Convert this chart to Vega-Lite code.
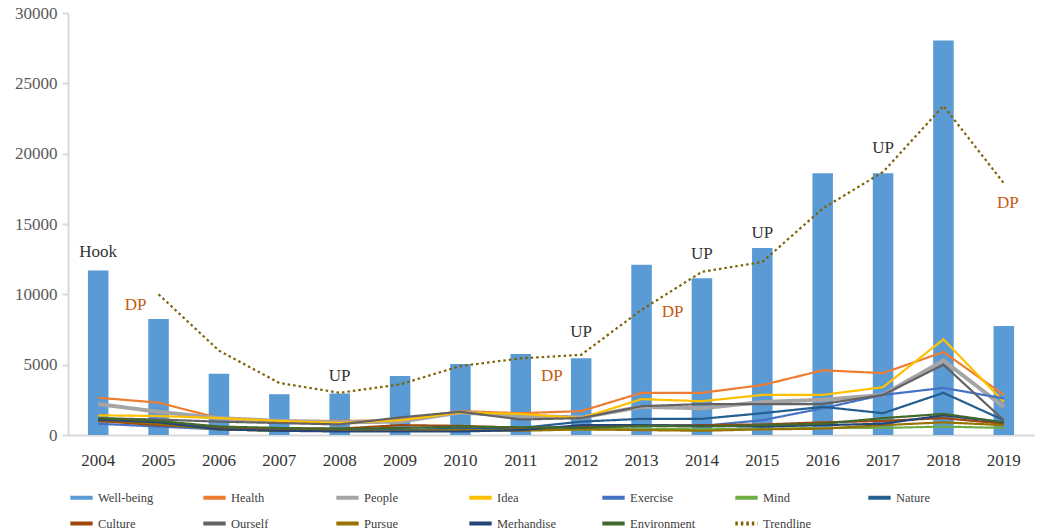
{
  "$schema": "https://vega.github.io/schema/vega-lite/v6.json",
  "autosize": {"type": "none"},
  "width": 966,
  "height": 422,
  "padding": {"left": 68, "top": 13, "right": 12, "bottom": 96},
  "background": "white",
  "config": {
    "view": {"stroke": null},
    "font": "Times New Roman, Liberation Serif, serif"
  },
  "datasets": {
    "wide": [
      {"year": "2004", "Well-being": 11700, "Health": 2650, "People": 2200, "Idea": 1400, "Exercise": 800, "Mind": 1000, "Nature": 1050, "Culture": 1000, "Ourself": 1200, "Pursue": 1100, "Merhandise": 1100, "Environment": 1200, "Trendline": null},
      {"year": "2005", "Well-being": 8250, "Health": 2300, "People": 1650, "Idea": 1350, "Exercise": 600, "Mind": 800, "Nature": 900, "Culture": 700, "Ourself": 1100, "Pursue": 800, "Merhandise": 900, "Environment": 1000, "Trendline": 10000},
      {"year": "2006", "Well-being": 4350, "Health": 1200, "People": 1200, "Idea": 1200, "Exercise": 400, "Mind": 400, "Nature": 450, "Culture": 500, "Ourself": 950, "Pursue": 400, "Merhandise": 400, "Environment": 600, "Trendline": 6000},
      {"year": "2007", "Well-being": 2900, "Health": 1000, "People": 1000, "Idea": 1000, "Exercise": 350, "Mind": 300, "Nature": 400, "Culture": 450, "Ourself": 850, "Pursue": 300, "Merhandise": 300, "Environment": 500, "Trendline": 3700},
      {"year": "2008", "Well-being": 2950, "Health": 1000, "People": 900, "Idea": 850, "Exercise": 300, "Mind": 300, "Nature": 350, "Culture": 450, "Ourself": 750, "Pursue": 300, "Merhandise": 250, "Environment": 450, "Trendline": 3000},
      {"year": "2009", "Well-being": 4200, "Health": 1050, "People": 950, "Idea": 1050, "Exercise": 350, "Mind": 300, "Nature": 350, "Culture": 700, "Ourself": 1250, "Pursue": 300, "Merhandise": 250, "Environment": 500, "Trendline": 3600},
      {"year": "2010", "Well-being": 5050, "Health": 1700, "People": 1600, "Idea": 1600, "Exercise": 400, "Mind": 350, "Nature": 450, "Culture": 650, "Ourself": 1650, "Pursue": 350, "Merhandise": 250, "Environment": 600, "Trendline": 4900},
      {"year": "2011", "Well-being": 5750, "Health": 1550, "People": 1350, "Idea": 1500, "Exercise": 450, "Mind": 350, "Nature": 500, "Culture": 500, "Ourself": 1100, "Pursue": 300, "Merhandise": 350, "Environment": 550, "Trendline": 5450},
      {"year": "2012", "Well-being": 5450, "Health": 1700, "People": 1250, "Idea": 1200, "Exercise": 600, "Mind": 400, "Nature": 950, "Culture": 550, "Ourself": 1200, "Pursue": 400, "Merhandise": 700, "Environment": 500, "Trendline": 5700},
      {"year": "2013", "Well-being": 12100, "Health": 3000, "People": 2000, "Idea": 2550, "Exercise": 700, "Mind": 450, "Nature": 1150, "Culture": 650, "Ourself": 2050, "Pursue": 350, "Merhandise": 700, "Environment": 650, "Trendline": 8900},
      {"year": "2014", "Well-being": 11150, "Health": 3000, "People": 1900, "Idea": 2400, "Exercise": 650, "Mind": 400, "Nature": 1150, "Culture": 700, "Ourself": 2200, "Pursue": 300, "Merhandise": 650, "Environment": 600, "Trendline": 11600},
      {"year": "2015", "Well-being": 13300, "Health": 3550, "People": 2350, "Idea": 2850, "Exercise": 1050, "Mind": 450, "Nature": 1550, "Culture": 750, "Ourself": 2200, "Pursue": 400, "Merhandise": 600, "Environment": 700, "Trendline": 12300},
      {"year": "2016", "Well-being": 18600, "Health": 4600, "People": 2500, "Idea": 2850, "Exercise": 1900, "Mind": 500, "Nature": 2000, "Culture": 900, "Ourself": 2200, "Pursue": 450, "Merhandise": 700, "Environment": 800, "Trendline": 16100},
      {"year": "2017", "Well-being": 18600, "Health": 4400, "People": 2850, "Idea": 3400, "Exercise": 2850, "Mind": 500, "Nature": 1550, "Culture": 1000, "Ourself": 2850, "Pursue": 700, "Merhandise": 800, "Environment": 1200, "Trendline": 18700},
      {"year": "2018", "Well-being": 28050, "Health": 5900, "People": 5300, "Idea": 6800, "Exercise": 3350, "Mind": 600, "Nature": 3000, "Culture": 1200, "Ourself": 5000, "Pursue": 900, "Merhandise": 1400, "Environment": 1500, "Trendline": 23400},
      {"year": "2019", "Well-being": 7750, "Health": 2850, "People": 2000, "Idea": 2350, "Exercise": 2600, "Mind": 500, "Nature": 1050, "Culture": 800, "Ourself": 1050, "Pursue": 700, "Merhandise": 900, "Environment": 900, "Trendline": 17900}
    ],
    "labels": [
      {"year": "2004", "value": 13000, "label": "Hook", "kind": "up"},
      {"year": "2005", "value": 9250, "label": "DP", "kind": "dpleft"},
      {"year": "2008", "value": 4200, "label": "UP", "kind": "up"},
      {"year": "2011", "value": 4200, "label": "DP", "kind": "dpright"},
      {"year": "2012", "value": 7300, "label": "UP", "kind": "up"},
      {"year": "2013", "value": 8750, "label": "DP", "kind": "dpright"},
      {"year": "2014", "value": 12850, "label": "UP", "kind": "up"},
      {"year": "2015", "value": 14350, "label": "UP", "kind": "up"},
      {"year": "2017", "value": 20400, "label": "UP", "kind": "up"},
      {"year": "2019", "value": 16500, "label": "DP", "kind": "dpend"}
    ]
  },
  "data": {"name": "wide"},
  "transform": [
    {"fold": ["Well-being", "Health", "People", "Idea", "Exercise", "Mind", "Nature", "Culture", "Ourself", "Pursue", "Merhandise", "Environment", "Trendline"], "as": ["series", "value"]},
    {"filter": "datum.value != null"}
  ],
  "encoding": {
    "x": {
      "field": "year", "type": "ordinal",
      "scale": {"paddingInner": 0, "paddingOuter": 0},
      "axis": {"title": null, "labelAngle": 0, "labelFont": "Times New Roman, Liberation Serif, serif", "labelFontSize": 17, "labelColor": "#333333", "labelPadding": 17, "ticks": false, "domainColor": "#D9D9D9", "domainWidth": 2}
    },
    "y": {
      "field": "value", "type": "quantitative",
      "scale": {"domain": [0, 30000], "nice": false},
      "axis": {"title": null, "format": "d", "values": [0, 5000, 10000, 15000, 20000, 25000, 30000], "grid": false, "labelFont": "Times New Roman, Liberation Serif, serif", "labelFontSize": 17, "labelColor": "#595959", "labelPadding": 5, "tickSize": 6, "tickColor": "#D9D9D9", "tickWidth": 2, "domainColor": "#D9D9D9", "domainWidth": 2}
    }
  },
  "layer": [
    {
      "transform": [{"filter": "datum.series === 'Well-being'"}],
      "mark": {"type": "bar", "width": {"band": 0.34}},
      "encoding": {
        "color": {
          "field": "series", "type": "nominal",
          "scale": {
            "domain": ["Well-being", "Health", "People", "Idea", "Exercise", "Mind", "Nature", "Culture", "Ourself", "Pursue", "Merhandise", "Environment", "Trendline"],
            "range": ["#5B9BD5", "#ED7D31", "#A5A5A5", "#FFC000", "#4472C4", "#70AD47", "#255E91", "#9E480E", "#636363", "#997300", "#264478", "#43682B", "#806000"]
          },
          "legend": {
            "title": null, "orient": "bottom", "columns": 7, "direction": "horizontal",
            "symbolType": "stroke", "symbolSize": 500, "symbolStrokeWidth": 4,
            "labelFont": "Times New Roman, Liberation Serif, serif", "labelFontSize": 12.5, "labelColor": "#404040",
            "gridAlign": "all", "columnPadding": 31, "rowPadding": 4, "offset": 16, "labelOffset": 3
          }
        }
      }
    },
    {
      "transform": [{"filter": "datum.series !== 'Well-being'"}],
      "mark": {"type": "line", "strokeCap": "butt"},
      "encoding": {
        "color": {"field": "series", "type": "nominal"},
        "strokeDash": {
          "field": "series", "type": "nominal",
          "scale": {
            "domain": ["Well-being", "Health", "People", "Idea", "Exercise", "Mind", "Nature", "Culture", "Ourself", "Pursue", "Merhandise", "Environment", "Trendline"],
            "range": [[1, 0], [1, 0], [1, 0], [1, 0], [1, 0], [1, 0], [1, 0], [1, 0], [1, 0], [1, 0], [1, 0], [1, 0], [2.5, 3]]
          },
          "legend": null
        },
        "strokeWidth": {"condition": {"test": "datum.series === 'People'", "value": 4}, "value": 2.2}
      }
    },
    {
      "data": {"name": "labels"},
      "transform": [{"filter": "datum.kind === 'up'"}],
      "mark": {"type": "text", "font": "Times New Roman, Liberation Serif, serif", "fontSize": 17, "color": "#333333"},
      "encoding": {"text": {"field": "label"}}
    },
    {
      "data": {"name": "labels"},
      "transform": [{"filter": "datum.kind === 'dpleft'"}],
      "mark": {"type": "text", "font": "Times New Roman, Liberation Serif, serif", "fontSize": 17, "color": "#C55A11", "dx": -23},
      "encoding": {"text": {"field": "label"}}
    },
    {
      "data": {"name": "labels"},
      "transform": [{"filter": "datum.kind === 'dpright'"}],
      "mark": {"type": "text", "font": "Times New Roman, Liberation Serif, serif", "fontSize": 17, "color": "#C55A11", "dx": 31},
      "encoding": {"text": {"field": "label"}}
    },
    {
      "data": {"name": "labels"},
      "transform": [{"filter": "datum.kind === 'dpend'"}],
      "mark": {"type": "text", "font": "Times New Roman, Liberation Serif, serif", "fontSize": 17, "color": "#C55A11", "dx": 4},
      "encoding": {"text": {"field": "label"}}
    }
  ]
}
